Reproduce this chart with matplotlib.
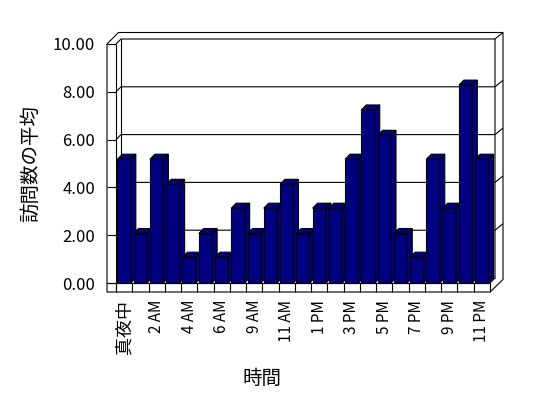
import matplotlib
matplotlib.use("Agg")
import matplotlib.pyplot as plt
from matplotlib.patches import Polygon, Rectangle

plt.rcParams['font.family'] = ['Noto Sans CJK JP', 'DejaVu Sans']

# ---- data ----
categories = ['真夜中', '1 AM', '2 AM', '3 AM', '4 AM', '5 AM', '6 AM', '8 AM',
              '9 AM', '10 AM', '11 AM', '12 PM', '1 PM', '2 PM', '3 PM', '4 PM',
              '5 PM', '6 PM', '7 PM', '8 PM', '9 PM', '10 PM', '11 PM']
values = [5.18, 2.07, 5.18, 4.13, 1.08, 2.07, 1.08, 3.13, 2.07, 3.13, 4.13, 2.07,
          3.13, 3.13, 5.18, 7.24, 6.18, 2.07, 1.08, 5.18, 3.13, 8.28, 5.18]
y_ticks = [0, 2, 4, 6, 8, 10]
x_label = '時間'
y_label = '訪問数の平均'

# ---- layout (pixels) ----
W, H = 548, 398
FL, FR, FB, FT = 116, 490, 283, 44
BAR_COLOR = '#000080'
D1 = 5.0      # floor / bar depth in px
D2 = 6.5      # wall thickness (depth) in px
WT = 9.0      # left wall / floor thickness in px
LW = 0.8

fig = plt.figure(figsize=(W / 100, H / 100), dpi=100)
ax = fig.add_axes([FL / W, (H - FB) / H, (FR - FL) / W, (FB - FT) / H])
n = len(categories)
X0, X1 = -0.5, n - 0.5
Y0, Y1 = 0, 10
ax.set_xlim(X0, X1)
ax.set_ylim(Y0, Y1)
for s in ax.spines.values():
    s.set_visible(False)
ax.patch.set_visible(False)

sx = (X1 - X0) / (FR - FL)
sy = (Y1 - Y0) / (FB - FT)


def pt(x, y, ox=0.0, oy=0.0):
    return (x + ox * sx, y + oy * sy)


def line(pts, z=1):
    xs = [p[0] for p in pts]
    ys = [p[1] for p in pts]
    ax.plot(xs, ys, color='black', lw=LW, clip_on=False, zorder=z,
            solid_capstyle='butt')


DT = D1 + D2
# outer box
outline = [pt(X0, Y0, -WT, -WT), pt(X0, Y1, -WT, 0), pt(X0, Y1, -WT + DT, DT),
           pt(X1, Y1, DT + 1.5, DT), pt(X1, Y0, DT + 1.5, DT - WT + 1), pt(X1, Y0, 0, -WT)]
ax.add_patch(Polygon(outline, closed=True, fc='white', ec='black', lw=LW,
                     clip_on=False, zorder=0))
# walls / floor lines
line([pt(X0, Y0, 0, -WT), pt(X0, Y1)])
line([pt(X0, Y1), pt(X0, Y1, D1, D1), pt(X1, Y1, D1, D1), pt(X1, Y1, DT + 1.5, DT)])
line([pt(X0, Y1, D1, D1), pt(X0, Y0, D1, D1)])
line([pt(X0, Y0), pt(X0, Y0, D1, D1)])
line([pt(X1, Y1, D1, D1), pt(X1, Y0, D1, D1), pt(X1, Y0)])
line([pt(X0, Y0, -WT, 0), pt(X1, Y0)])
line([pt(X0, Y0, D1, D1), pt(X1, Y0, D1, D1)])
for k in range(n + 1):
    line([pt(X0 + k, Y0), pt(X0 + k, Y0, 0, -WT)])
# gridlines
for v in y_ticks:
    line([pt(X0, v, -WT, 0), pt(X0, v)])
    if 0 < v < 10:
        line([pt(X0, v), pt(X0, v, D1, D1), pt(X1, v, D1, D1),
              pt(X1, v, DT + 1.5, DT)])

# bars
bw = 0.824
for i, v in enumerate(values):
    x0, x1 = i - bw / 2, i + bw / 2
    z = 10 + i
    ax.add_patch(Rectangle((x0, 0), bw, v, fc=BAR_COLOR, ec='black', lw=LW,
                           zorder=z, clip_on=False))
    ax.add_patch(Polygon([pt(x0, v), pt(x1, v), pt(x1, v, D1, D1), pt(x0, v, D1, D1)],
                         closed=True, fc=BAR_COLOR, ec='black', lw=LW, zorder=z,
                         clip_on=False))
    ax.add_patch(Polygon([pt(x1, 0), pt(x1, v), pt(x1, v, D1, D1), pt(x1, 0, D1, D1)],
                         closed=True, fc=BAR_COLOR, ec='black', lw=LW, zorder=z,
                         clip_on=False))

# ticks and labels
ax.set_yticks(y_ticks)
ax.set_yticklabels([f'{v:.2f}' for v in y_ticks])
ax.tick_params(axis='y', length=0, pad=15, labelsize=12)
xt = list(range(0, n, 2))
ax.set_xticks(xt)
ax.set_xticklabels([categories[i] for i in xt], rotation=90, va='top', ha='center')
ax.tick_params(axis='x', length=0, pad=12, labelsize=11)
ax.get_xticklabels()[0].set_fontsize(13)

fig.text(262 / W, (H - 378) / H, x_label, ha='center', va='center', fontsize=14)
fig.text(31 / W, (H - 163) / H, y_label, ha='center', va='center', rotation=90,
         fontsize=14)

fig.savefig('out.png', dpi=100, facecolor='white')
